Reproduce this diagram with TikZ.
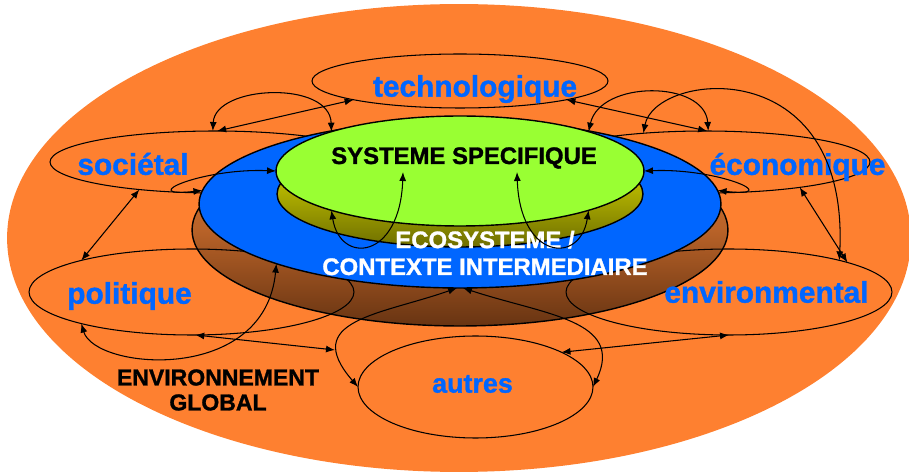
\documentclass[tikz,border=0pt]{standalone}
\usepackage{fontspec}
\setmainfont{Liberation Sans}[BoldFeatures={FakeBold=1.2}]
\usepackage{tikz}
\usetikzlibrary{positioning, shapes.geometric, arrows.meta}
\definecolor{envorange}{RGB}{254,128,48}
\definecolor{ctxblue}{RGB}{0,102,255}
\definecolor{sysgreen}{RGB}{153,255,51}
\definecolor{txtblue}{RGB}{0,102,255}
\begin{document}
\begin{tikzpicture}[x=0.02cm, y=-0.02cm,
  disk/.style={ellipse, draw, line width=0.8pt, inner sep=0pt, outer sep=0pt},
  field/.style={ellipse, draw, line width=0.6pt, inner sep=0pt, outer sep=0pt},
  fieldname/.style={font=\fontsize{17}{20}\selectfont\bfseries, text=txtblue, inner sep=0pt},
  caption/.style={font=\fontsize{13.6}{15.3}\selectfont\bfseries, align=center, inner sep=0pt},
  conn/.style={<->, >={Latex[length=1.8mm, width=1.4mm]}, line width=0.6pt}]
\useasboundingbox (0,0) rectangle (909,472) ;

\node[ellipse, fill=envorange, inner sep=0pt, minimum width=18.08cm, minimum height=9.36cm] at (459,238) (glob) {} ;
\node[disk, top color={rgb,255:red,214;green,116;blue,50}, bottom color={rgb,255:red,104;green,52;blue,18}, middle color={rgb,255:red,184;green,98;blue,40}, minimum width=10.72cm, minimum height=3.84cm] at (460,230) (ecobase) {} ;
\node[field, minimum width=6.5cm, minimum height=1.72cm] at (191.5,292) (pol) {} ;
\node[field, minimum width=6.52cm, minimum height=1.72cm] at (729,292) (envir) {} ;
\node[field, minimum width=6.6cm, minimum height=1.24cm] at (215,162) (soc) {} ;
\node[field, minimum width=6.6cm, minimum height=1.24cm] at (705,162) (econ) {} ;
\node[field, minimum width=5.92cm, minimum height=1.08cm] at (460,81) (tech) {} ;
\node[field, minimum width=4.7cm, minimum height=2.04cm] at (475.5,387) (autres) {} ;
\node[disk, fill=ctxblue, minimum width=10.44cm, minimum height=3.36cm] at (460,204) (ecosys) {} ;
\node[disk, top color={rgb,255:red,235;green,235;blue,0}, middle color={rgb,255:red,210;green,210;blue,0}, bottom color={rgb,255:red,110;green,110;blue,0}, minimum width=7.32cm, minimum height=2.12cm] at (460,194) (sysbase) {} ;
\node[disk, fill=sysgreen, minimum width=7.36cm, minimum height=2.2cm] at (460,171) (sys) {} ;

\node[fieldname] at (475,89) (techlabel) {technologique} ;
\node[fieldname] at (133,164) (soclabel) {sociétal} ;
\node[fieldname] at (797.5,167) (econlabel) {économique} ;
\node[fieldname] at (129.5,296) (pollabel) {politique} ;
\node[fieldname] at (766.5,292) (envirlabel) {environmental} ;
\node[fieldname, font=\fontsize{15.3}{18}\selectfont\bfseries] at (472.5,384) (autreslabel) {autres} ;
\node[caption] at (464,158) (syslabel) {SYSTEME SPECIFIQUE} ;
\node[caption, text=white] at (485,253) (ecosyslabel) {ECOSYSTEME /\\CONTEXTE INTERMEDIAIRE} ;
\node[caption, font=\fontsize{13.1}{14.2}\selectfont\bfseries] at (218,390) (globlabel) {ENVIRONNEMENT\\GLOBAL} ;

\coordinate (sysL) at (403,172) ;
\coordinate (sysR) at (517,172) ;
\coordinate (autresW) at (335,350) ;

\draw[conn] (soc.86) -- (tech.190) ;
\draw[conn] (soc.94) .. controls (215,85) and (330,80) .. (sys.163) ;
\draw[conn] (tech.350) -- (econ.86) ;
\draw[conn] (sys.17) .. controls (600,80) and (705,80) .. (econ.84) ;
\draw[conn] (econ.155) .. controls (655,72) and (850,50) .. (envir.16) ;
\draw[conn] (econ.345) -- (envir.14) ;
\draw[conn] (sys.east) .. controls (720,168) and (785,198) .. (ecosys.3) ;
\draw[conn] (sys.west) .. controls (200,168) and (135,198) .. (ecosys.177) ;
\draw[conn] (soc.200) -- (pol.164) ;
\draw[conn] (sys.197) .. controls (340,265) and (400,260) .. (sysL) ;
\draw[conn] (sysR) .. controls (520,260) and (580,265) .. (sys.343) ;
\draw[conn] (pol.196) .. controls (95,370) and (265,385) .. (ecosys.198) ;
\draw[conn] (pol.275) -- (autresW) ;
\draw[conn] (ecosys.268) .. controls (380,315) and (300,320) .. (autres.west) ;
\draw[conn] (ecosys.272) .. controls (545,315) and (625,320) .. (autres.east) ;
\draw[conn] (autres.22) -- (envir.south) ;
\end{tikzpicture}
\end{document}
